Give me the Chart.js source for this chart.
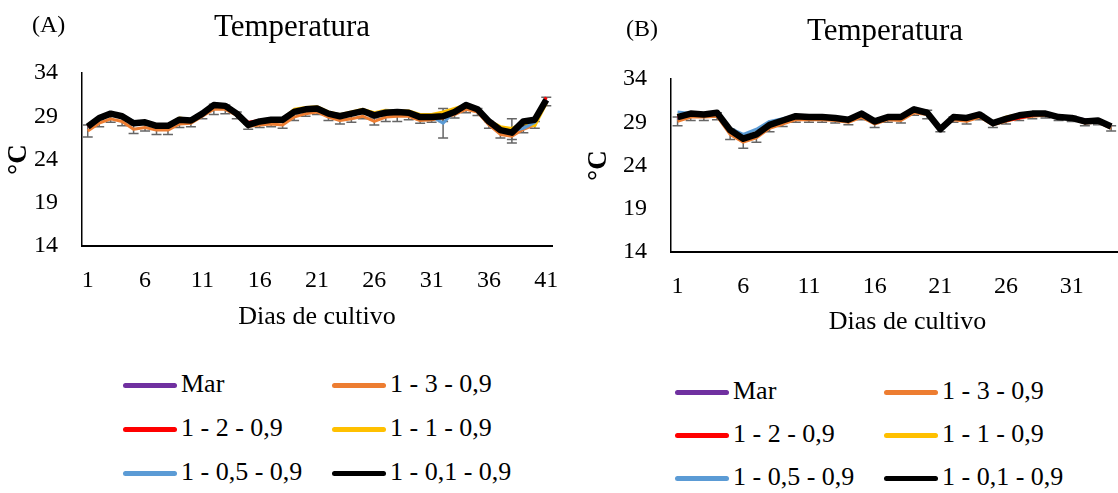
<!DOCTYPE html>
<html>
<head>
<meta charset="utf-8">
<script src="https://cdn.jsdelivr.net/npm/chart.js@4"></script>
<style>
  html, body { margin: 0; padding: 0; background: #fff; overflow: hidden; }
  body { width: 1118px; height: 493px; position: relative; font-family: 'Liberation Serif', 'Times New Roman', serif; color: #000; }
  canvas { position: absolute; top: 0; }
  .txt { position: absolute; white-space: nowrap; line-height: 1; font-family: 'Liberation Serif', 'Times New Roman', serif; }
  .leg-line { position: absolute; height: 5px; border-radius: 3px; }
</style>
</head>
<body>
<canvas id="chartA" width="560" height="340" style="left:0"></canvas>
<canvas id="chartB" width="600" height="340" style="left:560px"></canvas>

<div class="txt" style="left:32px; top:12px; font-size:24px;">(A)</div>
<div class="txt" style="left:292px; top:10px; font-size:31px; transform:translateX(-50%);">Temperatura</div>
<div class="txt" style="left:626px; top:16px; font-size:24px;">(B)</div>
<div class="txt" style="left:885px; top:14px; font-size:31px; transform:translateX(-50%);">Temperatura</div>

<div id="legendA"></div>
<div id="legendB"></div>

<script>
// series names and colours (same for both panels)
const seriesNames = ['Mar', '1 - 3 - 0,9', '1 - 2 - 0,9', '1 - 1 - 0,9', '1 - 0,5 - 0,9', '1 - 0,1 - 0,9'];
const seriesColors = ['#7030A0', '#ED7D31', '#FF0000', '#FFC000', '#5B9BD5', '#000000'];

// (A) days 1..41
const daysA = Array.from({length: 41}, (_, i) => String(i + 1));
const marA    = [27.8,28.7,29.2,29.0,28.2,28.2,27.9,27.9,28.5,28.4,29.3,30.2,30.1,29.3,28.0,28.3,28.5,28.5,29.5,29.8,29.9,29.3,29.0,29.3,29.6,29.1,29.4,29.5,29.4,28.9,28.9,29.0,29.5,30.3,29.8,28.4,27.4,27.1,28.3,28.6,30.9];
const t13A    = [27.3,28.2,28.7,28.4,27.5,27.7,27.4,27.4,28.1,28.2,29.0,29.8,29.8,29.1,27.8,28.0,28.1,28.0,28.9,29.3,29.5,28.9,28.5,28.7,29.0,28.4,28.9,29.0,29.0,28.5,28.6,28.8,29.2,29.8,29.5,28.0,26.9,26.7,27.5,28.0,30.7];
const t12A    = [27.8,28.7,29.3,29.0,28.2,28.3,27.9,27.9,28.6,28.5,29.3,30.3,30.2,29.4,28.3,28.5,28.6,28.6,29.5,29.8,29.9,29.3,29.0,29.3,29.6,29.1,29.4,29.5,29.4,28.9,28.9,29.0,29.5,30.3,29.8,28.4,27.4,27.1,28.4,28.7,31.2];
const t11A    = [28.0,28.9,29.4,29.0,28.3,28.3,28.0,28.0,28.8,28.6,29.4,30.4,30.2,29.4,28.0,28.5,28.7,28.7,29.8,30.0,30.1,29.5,29.2,29.5,29.8,29.4,29.7,29.6,29.6,29.2,29.2,29.5,29.9,30.3,29.9,28.5,27.8,27.6,28.2,27.9,30.5];
const t105A   = [27.9,28.8,29.3,29.1,28.4,28.4,28.0,28.0,28.6,28.6,29.2,30.4,30.2,29.4,28.0,28.4,28.6,28.6,29.6,29.9,30.0,29.4,29.2,29.4,29.6,29.3,29.6,29.6,29.5,29.0,29.0,28.2,29.6,30.5,29.8,28.3,27.5,27.3,27.6,28.3,30.8];
const t101A   = [27.8,28.8,29.3,29.0,28.2,28.3,27.9,27.9,28.6,28.5,29.3,30.3,30.2,29.3,28.0,28.4,28.6,28.6,29.5,29.8,29.9,29.3,29.0,29.3,29.6,29.1,29.4,29.5,29.4,28.9,28.9,29.0,29.5,30.3,29.8,28.4,27.4,27.1,28.4,28.6,30.9];
// standard deviations (error bars)
const errT13A  = [0.7,0.4,0.4,0.5,0.5,0.4,0.5,0.5,0.4,0.4,0.3,0.6,0.5,0.4,0.3,0.3,0.3,0.4,0.4,0.3,0.3,0.4,0.4,0.4,0.3,0.4,0.5,0.6,0.4,0.3,0.3,0.4,0.4,0.4,0.4,0.4,0.4,0.4,0.4,0.4,0.5];
const errT105A = [null,null,null,null,null,null,null,null,null,null,null,null,null,null,null,null,null,null,null,null,null,null,null,null,null,null,null,null,null,null,null,1.7,null,null,null,null,null,1.4,null,null,null];

// (B) days 1..36 on the axis, 34 measured
const daysB = Array.from({length: 36}, (_, i) => String(i + 1));
const marB    = [29.5,29.9,29.8,30.0,28.1,27.1,27.6,28.7,29.2,29.7,29.6,29.6,29.5,29.3,30.0,29.1,29.6,29.6,30.5,30.1,28.2,29.6,29.5,29.9,28.9,29.4,29.8,30.0,30.0,29.7,29.6,29.3,29.3,28.5];
const t13B    = [29.1,29.6,29.6,29.7,27.6,26.7,27.2,28.3,28.8,29.3,29.3,29.3,29.2,29.0,29.6,28.8,29.3,29.2,30.1,29.9,28.2,29.3,29.1,29.6,28.7,29.1,29.5,29.7,29.8,29.5,29.4,28.9,29.0,28.3];
const t12B    = [29.6,30.0,29.9,30.0,28.1,27.1,27.6,28.7,29.2,29.7,29.6,29.6,29.5,29.3,30.0,29.1,29.6,29.6,30.5,30.1,28.2,29.6,29.4,29.9,28.9,29.2,29.5,29.8,30.0,29.6,29.5,29.1,29.2,28.5];
const t11B    = [29.8,30.1,29.9,30.1,28.1,27.2,27.7,28.8,29.3,29.8,29.7,29.7,29.5,29.3,30.1,29.2,29.7,29.7,30.4,30.0,28.2,29.7,29.5,29.9,29.0,29.6,29.9,30.1,30.0,29.6,29.5,29.1,29.2,28.5];
const t105B   = [30.2,30.0,29.9,30.1,28.3,27.6,28.2,29.1,29.4,29.8,29.7,29.6,29.5,29.3,30.0,29.1,29.6,29.6,30.5,30.1,28.2,29.6,29.4,29.9,28.9,29.4,29.8,30.0,30.0,29.6,29.5,29.1,29.2,28.5];
const t101B   = [29.6,30.0,29.9,30.1,28.1,27.1,27.6,28.7,29.2,29.7,29.6,29.6,29.5,29.3,30.0,29.1,29.6,29.6,30.5,30.1,28.2,29.6,29.5,29.9,28.9,29.4,29.8,30.0,30.0,29.6,29.5,29.1,29.2,28.5];
const errT13B  = [0.5,0.4,0.4,0.4,0.6,0.7,0.5,0.4,0.3,0.3,0.3,0.3,0.3,0.3,0.3,0.4,0.3,0.3,0.3,0.5,0.3,0.3,0.3,0.3,0.3,0.3,0.3,0.3,0.3,0.3,0.3,0.3,0.3,0.3];

const yTicks = [14, 19, 24, 29, 34];

Chart.defaults.font.family = "'Liberation Serif', 'Times New Roman', serif";
Chart.defaults.color = '#000';

// simple error bar drawer, uses the chart's own scales
const errorBars = {
    id: 'errorBars',
    beforeDatasetsDraw(chart) {
        const { ctx, scales: { x, y } } = chart;
        ctx.save();
        ctx.strokeStyle = '#666666';
        ctx.lineWidth = 1.5;
        chart.data.datasets.forEach((ds) => {
            if (!ds.errors) return;
            ds.data.forEach((v, i) => {
                const e = ds.errors[i];
                if (e == null || v == null) return;
                const px = x.getPixelForValue(i);
                const top = y.getPixelForValue(v + e);
                const bot = y.getPixelForValue(v - e);
                ctx.beginPath();
                ctx.moveTo(px, top); ctx.lineTo(px, bot);
                ctx.moveTo(px - 5, top); ctx.lineTo(px + 5, top);
                ctx.moveTo(px - 5, bot); ctx.lineTo(px + 5, bot);
                ctx.stroke();
            });
        });
        ctx.restore();
    }
};

function makeChart(canvasId, labels, series, errors, g) {
    const datasets = series.map((values, i) => ({
        label: seriesNames[i],
        data: values,
        errors: errors[i] || null,
        borderColor: seriesColors[i],
        backgroundColor: seriesColors[i],
        borderWidth: i === 5 ? 6.5 : 3,
        borderJoinStyle: 'round',
        pointRadius: 0,
        tension: 0,
        order: series.length - i
    }));

    return new Chart(document.getElementById(canvasId), {
        type: 'line',
        data: { labels: labels, datasets: datasets },
        plugins: [errorBars],
        options: {
            responsive: false,
            animation: false,
            events: [],
            layout: { padding: { left: 0, top: g.top, right: g.right, bottom: 0 } },
            plugins: { legend: { display: false }, tooltip: { enabled: false } },
            scales: {
                x: {
                    type: 'category',
                    offset: true,
                    grid: { display: false, drawTicks: false },
                    border: { display: true, color: '#000', width: 2 },
                    ticks: {
                        autoSkip: false,
                        maxRotation: 0,
                        padding: g.xPad,
                        font: { size: 24 },
                        callback: function (val, index) {
                            return index % 5 === 0 ? this.getLabelForValue(val) : '';
                        }
                    },
                    title: {
                        display: true,
                        text: 'Dias de cultivo',
                        font: { size: 26 },
                        padding: { top: 0, bottom: g.xTitlePad }
                    },
                    afterFit: (scale) => {
                        scale.height = g.xHeight;
                        scale.paddingLeft = 0;
                        scale.paddingRight = 0;
                    }
                },
                y: {
                    min: 14,
                    max: 34,
                    afterBuildTicks: (scale) => { scale.ticks = yTicks.map(v => ({ value: v })); },
                    grid: { display: false, drawTicks: false },
                    border: { display: true, color: '#000', width: 1.5 },
                    ticks: { padding: 24, font: { size: 24 } },
                    title: {
                        display: true,
                        text: '°C',
                        font: { size: 27, weight: 'bold' },
                        padding: { top: g.yTitlePad, bottom: 0 }
                    },
                    afterFit: (scale) => { scale.width = g.yWidth; }
                }
            }
        }
    });
}

makeChart('chartA', daysA, [marA, t13A, t12A, t11A, t105A, t101A],
    [null, errT13A, null, null, errT105A, null],
    { top: 73, right: 8, xHeight: 94, xPad: 20, xTitlePad: 7, yWidth: 82, yTitlePad: 3 });

makeChart('chartB', daysB, [marB, t13B, t12B, t11B, t105B, t101B],
    [null, errT13B, null, null, null, null],
    { top: 79, right: 16, xHeight: 88, xPad: 20, xTitlePad: 2, yWidth: 111, yTitlePad: 23 });

// two-column legends under each panel
function buildLegend(id, x1, x2, rows) {
    const box = document.getElementById(id);
    seriesNames.forEach((name, i) => {
        const lx = i % 2 === 0 ? x1 : x2;
        const cy = rows[Math.floor(i / 2)];
        const line = document.createElement('div');
        line.className = 'leg-line';
        line.style.left = lx + 'px';
        line.style.top = (cy - 2.5) + 'px';
        line.style.width = '54px';
        line.style.background = seriesColors[i];
        box.appendChild(line);
        const t = document.createElement('div');
        t.className = 'txt';
        t.style.left = (lx + 58) + 'px';
        t.style.top = (cy - 14) + 'px';
        t.style.fontSize = '26px';
        t.style.fontFamily = "'Liberation Serif', 'Times New Roman', serif";
        t.textContent = name;
        box.appendChild(t);
    });
}
buildLegend('legendA', 123, 332, [385, 429, 473]);
buildLegend('legendB', 675, 884, [392, 435, 478]);
</script>
</body>
</html>
